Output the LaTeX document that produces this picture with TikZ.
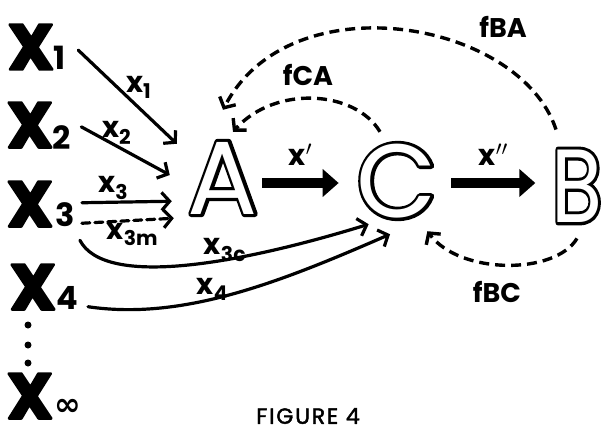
\documentclass[tikz,border=0pt]{standalone}
\usepackage{fontspec}
\setmainfont{Poppins}
\newfontfamily\djv{DejaVu Sans}
\newfontfamily\holout[FakeBold=6]{Poppins}
\newfontfamily\heavyx[UprightFont={* Bold}, FakeBold=4]{Poppins}
\newfontfamily\figfont[FakeBold=2, LetterSpace=8]{Poppins}
\usetikzlibrary{arrows.meta}
\tikzset{
  bigx/.style={font=\fontsize{64}{64}\heavyx, inner sep=0pt},
  subn/.style={font=\fontsize{32}{32}\selectfont\bfseries, inner sep=0pt},
  hollow/.style={font=\fontsize{104}{104}\selectfont, inner sep=0pt},
  lbl/.style={font=\fontsize{29}{29}\selectfont\bfseries, inner sep=0pt},
  flbl/.style={font=\fontsize{27}{27}\selectfont\bfseries, inner sep=0pt},
  flow/.style={line width=3.2pt, line cap=round, -{Straight Barb[length=8pt,width=18pt]}},
  feed/.style={line width=3.4pt, dash pattern=on 10pt off 6pt, -{Straight Barb[length=8pt,width=18pt]}},
  main/.style={line width=10pt, -{Triangle[length=16pt,width=27pt]}},
}
% outlined capital: emboldened black letter with the plain letter in white on top
\newcommand{\hol}[1]{\rlap{\holout #1}\textcolor{white}{#1}}
\begin{document}
\begin{tikzpicture}[x=1pt, y=-1pt, line join=round, >=stealth]
\useasboundingbox (0,0) rectangle (604,431);
% inputs on the left
\node[bigx] (X1) at (31,47) {X};
\node[subn] (n1) at (60,58) {1};
\node[bigx] (X2) at (30,125) {X};
\node[subn] (n2) at (62,138) {2};
\node[bigx] (X3) at (30,204) {X};
\node[subn] (n3) at (65,215) {3};
\node[bigx] (X4) at (33,287) {X};
\node[subn] (n4) at (67,298) {4};
\node[bigx] (Xinf) at (30,396) {X};
\node[subn] (ninf) at (68,407) {\djv ∞};
\fill (28,325) circle (3.5);
\fill (28,345) circle (3.5);
\fill (28,363) circle (3.5);

% stages
\node[hollow] (A) at (223,178) {\hol{A}};
\node[hollow] (C) at (397,181) {\hol{C}};
\node[hollow, xscale=0.8] (B) at (577,186) {\hol{B}};

\draw[main] ([shift={(4,5)}]A.east) -- ([shift={(-18,2)}]C.west)
  node[lbl, midway, above=13pt] {x$'$};
\draw[main] ([shift={(14,2)}]C.east) -- ([shift={(-16,-3)}]B.west)
  node[lbl, midway, above=13pt] {x$''$};

% flows into A and C
\draw[flow] ([shift={(12,4)}]n1.north east) -- ([shift={(-11,2)}]A.north west)
  node[lbl, pos=.5, above right=-3pt] {x\textsubscript{1}};
\draw[flow] ([shift={(10,1)}]n2.north east) -- ([shift={(-18,-3)}]A.west)
  node[lbl, pos=.4, above=0pt] {x\textsubscript{2}};
\draw[flow] ([shift={(7,0)}]n3.north east) -- ([shift={(-16,-13)}]A.south west)
  node[lbl, pos=.35, above=1pt] {x\textsubscript{3}};
\draw[flow, dash pattern=on 8pt off 5pt] ([shift={(7,-4)}]n3.south east) -- ([shift={(-14,4)}]A.south west)
  node[lbl, pos=.55, below=1pt] {x\textsubscript{3m}};
\draw[flow] ([shift={(5,13)}]n3.south east) .. controls +(25,48) and +(-130,40) .. ([shift={(12,6)}]C.south west)
  node[lbl, pos=.62, above=-3pt] {x\textsubscript{3c}};
\draw[flow] ([shift={(10,-3)}]n4.south east) .. controls +(95,14) and +(-110,48) .. ([shift={(-7,16)}]C.south)
  node[lbl, pos=.43, above=-3pt] {x\textsubscript{4}};

% feedback
\draw[feed] ([shift={(-21,-20)}]B.north) .. controls (520,20) and (290,-20) .. ([shift={(0,-32)}]A.north);
\draw[feed] ([shift={(-17,-12)}]C.north) .. controls (355,90) and (275,85) .. ([shift={(10,-10)}]A.north);
\draw[feed] ([shift={(0,16)}]B.south) .. controls (555,275) and (460,275) .. ([shift={(-10,13)}]C.south east);
\node[flbl] (fBA) at (503,27) {fBA};
\node[flbl] (fCA) at (308,75) {fCA};
\node[flbl] (fBC) at (497,292) {fBC};

\node[font=\fontsize{22}{22}\figfont] (fig) at (308,416) {FIGURE 4};
\end{tikzpicture}
\end{document}
